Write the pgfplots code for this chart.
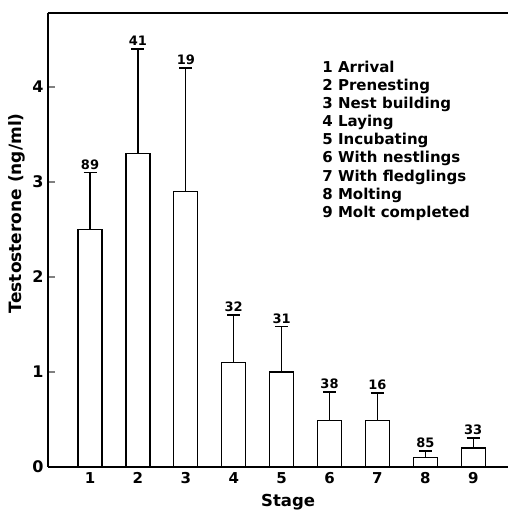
\documentclass[border=0pt]{standalone}
\usepackage{fontspec}
\setmainfont{DejaVu Sans}
\usepackage{pgfplots}
\usepackage{pgfplotstable}
\pgfplotsset{compat=1.18}
\pgfplotstableread{
x y ey top n
1 2.5 0.6 3.1 89
2 3.3 1.1 4.4 41
3 2.9 1.3 4.2 19
4 1.1 0.5 1.6 32
5 1.0 0.48 1.48 31
6 0.49 0.3 0.79 38
7 0.49 0.29 0.78 16
8 0.1 0.07 0.17 85
9 0.2 0.105 0.305 33
}\data
\begin{document}
\begin{tikzpicture}
\path[use as bounding box] (-48bp,-45bp) rectangle (460bp,467bp);
\begin{axis}[
  at={(0,0)}, anchor=south west,
  scale only axis, width=460bp, height=454bp,
  xmin=0.123, xmax=9.726, ymin=0, ymax=4.78,
  axis x line=box, axis y line=left,
  axis line style={-, line width=1.5pt},
  xtick={1,...,9}, ytick={0,...,4},
  x tick style={draw=none},
  y tick style={line width=1.2pt},
  tick align=inside, major tick length=7bp,
  /pgf/number format/assume math mode=true,
  yticklabel style={font=\bfseries\fontsize{16bp}{16bp}\selectfont, xshift=-1bp},
  xticklabel style={font=\bfseries\fontsize{15bp}{15bp}\selectfont, yshift=-2bp},
  xlabel={Stage}, ylabel={Testosterone (ng/ml)},
  xlabel style={font=\bfseries\fontsize{16.5bp}{16.5bp}\selectfont, at={(axis description cs:0.522,-0.078)}, anchor=center},
  ylabel style={font=\bfseries\fontsize{17bp}{17bp}\selectfont, at={(axis description cs:-0.068,0.559)}, anchor=center},
  clip=false,
]
\addplot[ybar, bar width=0.5, fill=white, draw=black, line width=1.3pt,
  error bars/.cd, y dir=plus, y explicit,
  error bar style={line width=1.3pt},
  error mark options={rotate=90, mark size=6.5bp, line width=1.8pt}]
  table[x=x, y=y, y error=ey]{\data};
\addplot[draw=none, mark=none, nodes near coords, point meta=explicit symbolic,
  nodes near coords style={font=\bfseries\fontsize{13bp}{13bp}\selectfont, anchor=south, yshift=1bp, inner sep=2bp}]
  table[x=x, y=top, meta=n]{\data};
\tikzset{leg/.style={anchor=base west, inner sep=0pt, font=\bfseries\fontsize{15bp}{15bp}\selectfont}}
\node[leg] at (rel axis cs:0.596,0.8689) {1 Arrival};
\node[leg] at (rel axis cs:0.596,0.8291) {2 Prenesting};
\node[leg] at (rel axis cs:0.596,0.7892) {3 Nest building};
\node[leg] at (rel axis cs:0.596,0.7493) {4 Laying};
\node[leg] at (rel axis cs:0.596,0.7095) {5 Incubating};
\node[leg] at (rel axis cs:0.596,0.6696) {6 With nestlings};
\node[leg] at (rel axis cs:0.596,0.6297) {7 With fledglings};
\node[leg] at (rel axis cs:0.596,0.5899) {8 Molting};
\node[leg] at (rel axis cs:0.596,0.5500) {9 Molt completed};
\draw[line width=1.5pt] (rel axis cs:0,1) -- (rel axis cs:1,1);
\end{axis}
\end{tikzpicture}
\end{document}
